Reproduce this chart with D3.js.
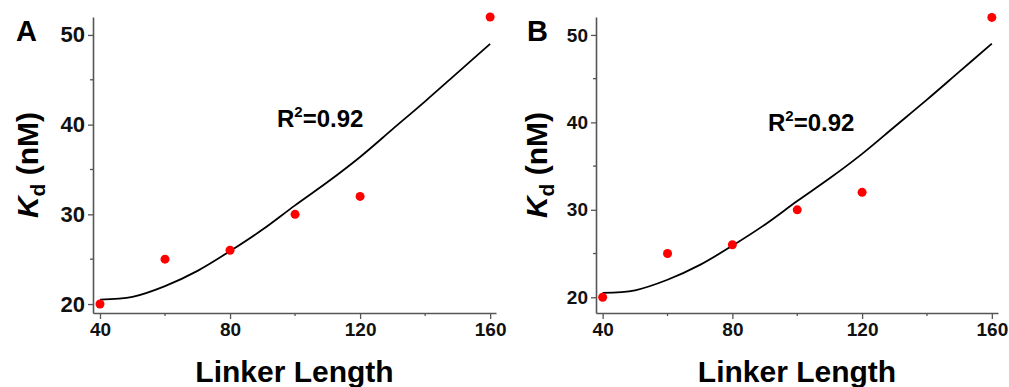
<!DOCTYPE html>
<html>
<head>
<meta charset="utf-8">
<script src="https://cdn.jsdelivr.net/npm/d3@7"></script>
<style>
  body { margin: 0; background: #fff; }
  text { font-family: "Liberation Sans", Arial, sans-serif; font-weight: bold; }
</style>
</head>
<body>
<div id="chart"></div>
<script>
// measured points
const linker = [40, 60, 80, 100, 120, 160];
const kd = [20, 25, 26, 30, 32, 52];

// fitted curve
const fitX = [40, 50, 60, 70, 80, 90, 100, 110, 120, 130, 140, 150, 160];
const fitY = [20.5, 20.8, 22.0, 23.7, 25.9, 28.3, 31.0, 33.6, 36.4, 39.5, 42.6, 45.8, 49.0];

const xTicks = [40, 80, 120, 160];
const xMinor = [60, 100, 140];
const yTicks = [20, 30, 40, 50];
const yMinor = [25, 35, 45];
const r2Label = "0.92";

const width = 1009, height = 387;

const svg = d3.select("#chart")
  .append("svg")
    .attr("width", width)
    .attr("height", height);

// panel layouts
const panels = [
  {letter: "A", left: 93, right: 496, top: 17, bottom: 313, yDom: [19.0, 52.0],
   xDom: [37.85, 161.8], letterX: 16, yLabX: 38, yTickSize: 22, r2x: 277, r2y: 127},
  {letter: "B", left: 596, right: 998, top: 17, bottom: 313, yDom: [18.2, 52.05],
   xDom: [37.95, 161.9], letterX: 527, yLabX: 547, yTickSize: 19, r2x: 768, r2y: 131}
];

panels.forEach(p => {
  const x = d3.scaleLinear().domain(p.xDom).range([p.left, p.right]);
  const y = d3.scaleLinear().domain(p.yDom).range([p.bottom, p.top]);
  const g = svg.append("g");

  // axes
  const xAxis = g.append("g")
    .attr("transform", `translate(0,${p.bottom})`)
    .call(d3.axisBottom(x).tickValues(xTicks).tickSize(6).tickSizeOuter(0).tickPadding(4));
  xAxis.selectAll(".tick text").attr("font-size", 19).attr("fill", "#111");

  const yAxis = g.append("g")
    .attr("transform", `translate(${p.left},0)`)
    .call(d3.axisLeft(y).tickValues(yTicks).tickSize(5).tickSizeOuter(0).tickPadding(3));
  yAxis.selectAll(".tick text").attr("font-size", p.yTickSize).attr("fill", "#111");

  // minor ticks
  g.append("g").selectAll("line").data(xMinor).join("line")
    .attr("x1", d => x(d)).attr("x2", d => x(d))
    .attr("y1", p.bottom).attr("y2", p.bottom + 3);
  g.append("g").selectAll("line").data(yMinor).join("line")
    .attr("y1", d => y(d)).attr("y2", d => y(d))
    .attr("x1", p.left).attr("x2", p.left - 3);

  g.selectAll(".domain").attr("stroke", "#555").attr("stroke-width", 1.6);
  g.selectAll(".tick line").attr("stroke", "#555").attr("stroke-width", 1.3);
  g.selectAll("g > g > line").attr("stroke", "#555").attr("stroke-width", 1.3);

  // fit curve
  const line = d3.line()
    .x(d => x(d[0]))
    .y(d => y(d[1]))
    .curve(d3.curveCatmullRom);
  g.append("path")
    .datum(d3.zip(fitX, fitY))
    .attr("d", line)
    .attr("fill", "none")
    .attr("stroke", "#000")
    .attr("stroke-width", 1.8);

  // points
  g.selectAll("circle").data(d3.zip(linker, kd)).join("circle")
    .attr("cx", d => x(d[0]))
    .attr("cy", d => y(d[1]))
    .attr("r", 4.5)
    .attr("fill", "#ff0000");

  // panel letter
  g.append("text")
    .attr("x", p.letterX).attr("y", 41)
    .attr("font-size", 29)
    .text(p.letter);

  // R^2 label
  const r2 = g.append("text")
    .attr("x", p.r2x).attr("y", p.r2y)
    .attr("font-size", 24);
  r2.append("tspan").text("R");
  r2.append("tspan").attr("font-size", 15).attr("dy", -10).text("2");
  r2.append("tspan").attr("dy", 10).text("=" + r2Label);

  // x title
  g.append("text")
    .attr("x", (p.left + p.right) / 2).attr("y", 382)
    .attr("text-anchor", "middle")
    .attr("font-size", 30)
    .text("Linker Length");

  // y title
  const yt = g.append("text")
    .attr("transform", `translate(${p.yLabX},${(p.top + p.bottom) / 2}) rotate(-90)`)
    .attr("text-anchor", "middle")
    .attr("font-size", 30);
  yt.append("tspan").attr("font-style", "italic").text("K");
  yt.append("tspan").attr("font-size", 21).attr("dy", 7).text("d");
  yt.append("tspan").attr("dy", -7).text(" (nM)");
});
</script>
</body>
</html>
